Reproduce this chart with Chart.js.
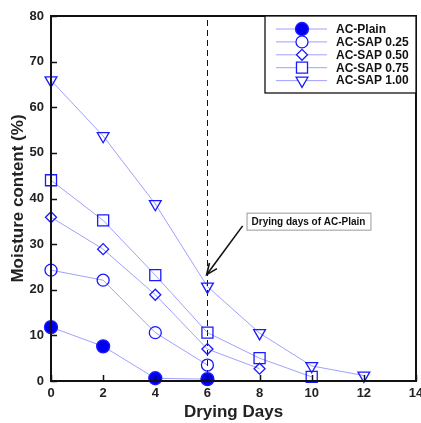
<!DOCTYPE html>
<html>
<head>
<meta charset="utf-8">
<script src="https://cdn.jsdelivr.net/npm/chart.js@4/dist/chart.umd.min.js"></script>
<style>
  html, body { margin: 0; padding: 0; background: #fff; overflow: hidden; }
  #wrap { width: 421px; height: 423px; }
  canvas { display: block; }
</style>
</head>
<body>
<div id="wrap"><canvas id="c" width="421" height="423"></canvas></div>
<script>
// drying days (x) and moisture content (%) per mix
const days = [0, 2, 4, 6, 8, 10, 12];
const acPlain = [11.8, 7.6, 0.6, 0.4];
const acSap025 = [24.3, 22.1, 10.6, 3.5];
const acSap050 = [35.9, 28.9, 18.9, 7.0, 2.7];
const acSap075 = [44.0, 35.2, 23.2, 10.6, 5.0, 0.9];
const acSap100 = [65.9, 53.7, 38.8, 20.7, 10.5, 3.3, 1.2];

const seriesNames = ['AC-Plain', 'AC-SAP 0.25', 'AC-SAP 0.50', 'AC-SAP 0.75', 'AC-SAP 1.00'];
const xTicks = [0, 2, 4, 6, 8, 10, 12, 14];
const yTicks = [0, 10, 20, 30, 40, 50, 60, 70, 80];
const plainDryingDay = 6;
const noteText = 'Drying days of AC-Plain';

const markerColor = '#1a1aff';
const lineColor = 'rgba(120,120,255,0.7)';

const styles = [
  { pointStyle: 'circle', radius: 6.5, fill: true, rotation: 0 },
  { pointStyle: 'circle', radius: 6, fill: false, rotation: 0 },
  { pointStyle: 'rectRot', radius: 5.5, fill: false, rotation: 0 },
  { pointStyle: 'rect', radius: 7.8, fill: false, rotation: 0 },
  { pointStyle: 'triangle', radius: 6.8, fill: false, rotation: 180 }
];

const allValues = [acPlain, acSap025, acSap050, acSap075, acSap100];

const datasets = allValues.map((vals, i) => ({
  label: seriesNames[i],
  data: vals.map((v, k) => ({ x: days[k], y: v })),
  borderColor: lineColor,
  borderWidth: 1,
  pointStyle: styles[i].pointStyle,
  pointRadius: styles[i].radius,
  pointRotation: styles[i].rotation,
  pointBorderColor: markerColor,
  pointBorderWidth: 1.3,
  pointBackgroundColor: styles[i].fill ? '#0000ee' : 'rgba(0,0,0,0)',
  tension: 0,
  fill: false,
  clip: false
}));

const FONT = '"Liberation Sans", Arial, sans-serif';
const lastX = xTicks[xTicks.length - 1];

// frame, inner ticks, dashed marker line, note and legend
const decorPlugin = {
  id: 'decor',
  beforeDatasetsDraw(chart) {
    const { ctx, chartArea: a, scales: { x } } = chart;
    ctx.save();
    // dashed line at the plain drying day
    const px = Math.round(x.getPixelForValue(plainDryingDay)) + 0.5;
    ctx.strokeStyle = '#111';
    ctx.lineWidth = 1;
    ctx.setLineDash([6, 4]);
    ctx.beginPath();
    ctx.moveTo(px, a.top + 4);
    ctx.lineTo(px, a.bottom);
    ctx.stroke();
    ctx.restore();
  },
  afterDraw(chart) {
    const { ctx, chartArea: a, scales: { x, y } } = chart;
    ctx.save();
    // frame
    ctx.strokeStyle = '#111';
    ctx.lineWidth = 2;
    ctx.strokeRect(a.left, a.top, a.right - a.left, a.bottom - a.top);

    // inner ticks
    ctx.lineWidth = 1.5;
    ctx.beginPath();
    xTicks.forEach(t => {
      const px = Math.round(x.getPixelForValue(t)) + 0.5;
      ctx.moveTo(px, a.bottom);
      ctx.lineTo(px, a.bottom - 6);
    });
    yTicks.forEach(t => {
      const py = Math.round(y.getPixelForValue(t)) + 0.5;
      ctx.moveTo(a.left, py);
      ctx.lineTo(a.left + 6, py);
    });
    ctx.stroke();

    // last x label (drawn here so it may run off the edge like the original)
    ctx.font = 'bold 13px ' + FONT;
    ctx.fillStyle = '#222';
    ctx.textAlign = 'center';
    ctx.textBaseline = 'top';
    ctx.fillText(String(lastX), x.getPixelForValue(lastX), a.bottom + 6);

    // note box
    ctx.font = 'bold 10px ' + FONT;
    const tw = ctx.measureText(noteText).width;
    const bx = x.getPixelForValue(7.5), by = y.getPixelForValue(36.9);
    const bw = tw + 10, bh = 17;
    ctx.fillStyle = '#fff';
    ctx.fillRect(bx, by, bw, bh);
    ctx.strokeStyle = '#999';
    ctx.lineWidth = 1;
    ctx.strokeRect(bx + 0.5, by + 0.5, bw, bh);
    ctx.fillStyle = '#111';
    ctx.textBaseline = 'middle';
    ctx.textAlign = 'left';
    ctx.fillText(noteText, bx + 5, by + bh / 2 + 1);

    // arrow
    const ax0 = x.getPixelForValue(7.35), ay0 = y.getPixelForValue(34.0);
    const ax1 = x.getPixelForValue(5.97), ay1 = y.getPixelForValue(23.3);
    ctx.strokeStyle = '#111';
    ctx.lineWidth = 1.6;
    ctx.beginPath();
    ctx.moveTo(ax0, ay0);
    ctx.lineTo(ax1, ay1);
    ctx.stroke();
    const ang = Math.atan2(ay1 - ay0, ax1 - ax0);
    const hl = 12;
    ctx.beginPath();
    ctx.moveTo(ax1 - hl * Math.cos(ang - 0.4), ay1 - hl * Math.sin(ang - 0.4));
    ctx.lineTo(ax1, ay1);
    ctx.lineTo(ax1 - hl * Math.cos(ang + 0.4), ay1 - hl * Math.sin(ang + 0.4));
    ctx.stroke();

    // legend box
    const lx = 265, ly = a.top, lw = a.right - 265, lh = 77;
    ctx.fillStyle = '#fff';
    ctx.fillRect(lx, ly, lw, lh);
    ctx.strokeStyle = '#111';
    ctx.lineWidth = 1.3;
    ctx.strokeRect(lx, ly, lw, lh);
    ctx.font = 'bold 12px ' + FONT;
    seriesNames.forEach((name, i) => {
      const cy = ly + 13 + i * 12.9;
      ctx.strokeStyle = lineColor;
      ctx.lineWidth = 1;
      ctx.beginPath();
      ctx.moveTo(276, cy);
      ctx.lineTo(327, cy);
      ctx.stroke();
      ctx.strokeStyle = markerColor;
      ctx.fillStyle = styles[i].fill ? '#0000ee' : '#fff';
      ctx.lineWidth = 1.3;
      Chart.helpers.drawPoint(ctx, {
        pointStyle: styles[i].pointStyle,
        radius: styles[i].radius,
        rotation: styles[i].rotation,
        borderWidth: 1.3
      }, 302, cy);
      ctx.fillStyle = '#111';
      ctx.textAlign = 'left';
      ctx.textBaseline = 'middle';
      ctx.fillText(name, 336, cy + 0.5);
    });
    ctx.restore();
  }
};

new Chart(document.getElementById('c'), {
  type: 'line',
  data: { datasets },
  options: {
    responsive: false,
    animation: false,
    layout: { autoPadding: false, padding: { top: 16, right: 5, left: 8, bottom: 0 } },
    plugins: {
      legend: { display: false },
      tooltip: { enabled: false }
    },
    scales: {
      x: {
        type: 'linear',
        min: 0,
        max: 14,
        afterBuildTicks: s => { s.ticks = xTicks.map(v => ({ value: v })); },
        afterFit: s => { s.height = 42; s.paddingRight = 0; },
        grid: { display: false, drawTicks: false, tickLength: 0 },
        border: { display: false },
        ticks: {
          color: '#222',
          font: { family: FONT, size: 13, weight: 'bold' },
          padding: 5,
          maxRotation: 0,
          callback: v => (v === lastX ? '' : String(v))
        },
        title: { display: true, text: 'Drying Days', color: '#222', font: { family: FONT, size: 17, weight: 'bold' }, padding: { top: 2, bottom: 0 } }
      },
      y: {
        min: 0,
        max: 80,
        afterBuildTicks: s => { s.ticks = yTicks.map(v => ({ value: v })); },
        afterFit: s => { s.width = 43; },
        grid: { display: false, drawTicks: false, tickLength: 0 },
        border: { display: false },
        ticks: { color: '#222', font: { family: FONT, size: 13, weight: 'bold' }, padding: 7 },
        title: { display: true, text: 'Moisture content (%)', color: '#222', font: { family: FONT, size: 17, weight: 'bold' }, padding: { top: 0, bottom: 0 } }
      }
    }
  },
  plugins: [decorPlugin]
});
</script>
</body>
</html>
